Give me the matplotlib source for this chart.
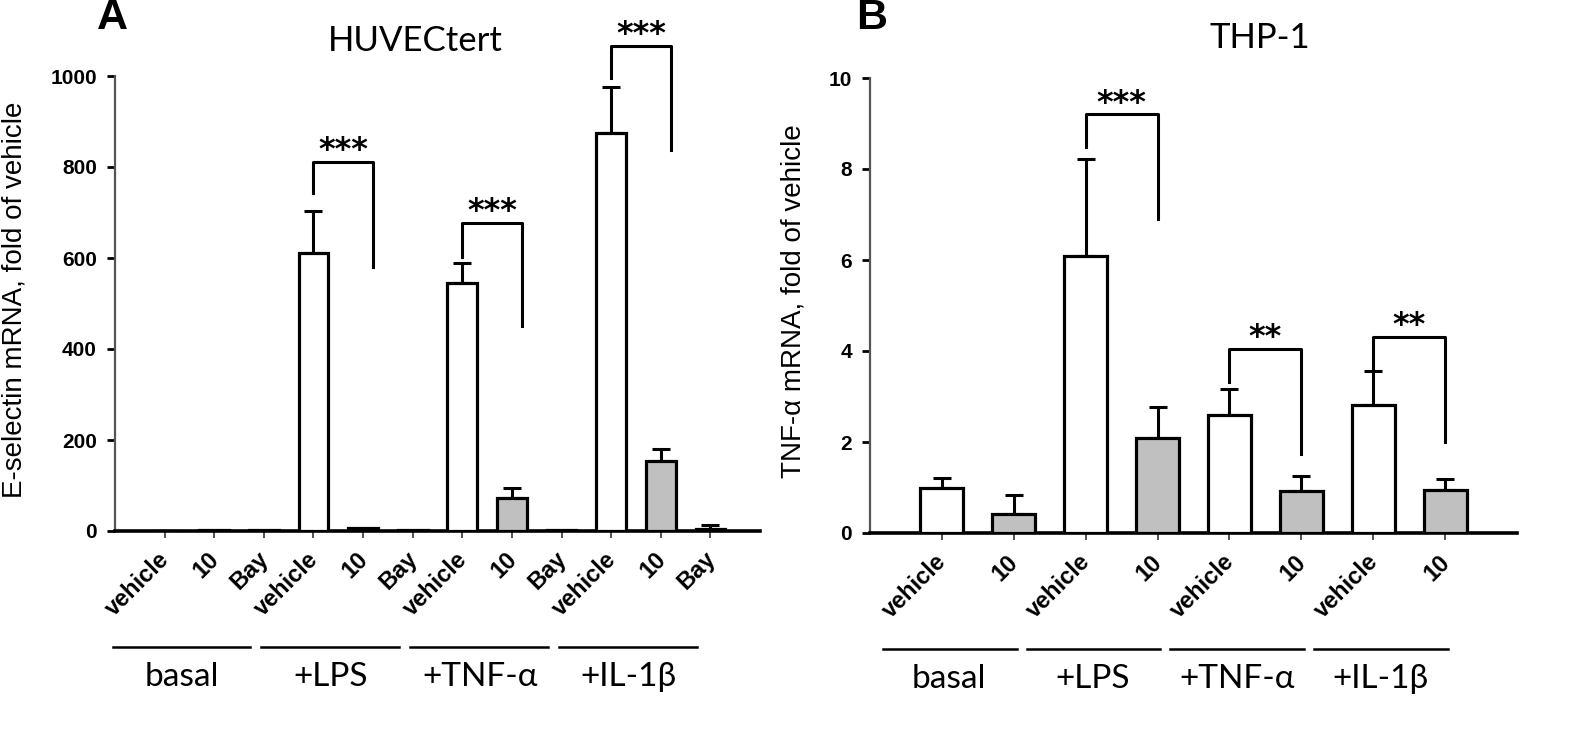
import numpy as np
import matplotlib
matplotlib.use("Agg")
import matplotlib.pyplot as plt

# ---- data ----
groups = ["basal", "+LPS", "+TNF-\u03b1", "+IL-1\u03b2"]

a_labels = ["vehicle", "10", "Bay"] * 4
a_mean = [1, 1.5, 1.5, 612, 6, 1.5, 545, 72, 3, 875, 153, 5]
a_err = [0, 0, 0, 91, 0, 0, 45, 22, 0, 101, 27, 8]
a_gray = [False, True, False] * 4

b_labels = ["vehicle", "10"] * 4
b_mean = [1.0, 0.42, 6.08, 2.09, 2.59, 0.93, 2.82, 0.94]
b_err = [0.2, 0.41, 2.14, 0.68, 0.58, 0.32, 0.73, 0.25]
b_gray = [False, True] * 4

# significance brackets: left bar, right bar, left-leg bottom, top, right-leg bottom, stars
a_sig = [(3, 4, 743, 811, 580, "***"),
         (6, 7, 602, 677, 450, "***"),
         (9, 10, 995, 1066, 837, "***")]
b_sig = [(2, 3, 8.48, 9.2, 6.9, "***"),
         (4, 5, 3.32, 4.04, 1.74, "**"),
         (6, 7, 3.55, 4.31, 2.0, "**")]

W, H = 1593, 751
fig = plt.figure(figsize=(W / 100, H / 100), dpi=100)

BOLD = dict(family=["Liberation Sans", "DejaVu Sans"], weight="bold")
CAL = ["Lato", "Open Sans", "DejaVu Sans"]


def px(x, y):
    return x / W, 1 - y / H


def panel(rect, labels, mean, err, gray, ymax, yticks, right_off, sig,
          grp_span, grp_step, grp_center, tick_dx, tick_y):
    ax = fig.add_axes(rect)
    x = np.arange(len(mean))
    colors = ["#c0c0c0" if g else "white" for g in gray]
    ax.bar(x, mean, width=0.6, color=colors, edgecolor="black",
           linewidth=2.3, zorder=3)
    err = np.array(err, dtype=float)
    m = err > 0
    ax.errorbar(x[m], np.array(mean)[m], yerr=[np.zeros(m.sum()), err[m]],
                fmt="none", ecolor="black", elinewidth=2.2, capsize=6.5,
                capthick=2.2, zorder=2)
    ax.set_xlim(-1, len(mean))
    ax.set_ylim(0, ymax)
    ax.set_yticks(yticks)
    ax.set_yticklabels([str(t) for t in yticks], fontsize=15, **BOLD)
    ax.set_xticks(x)
    ax.set_xticklabels([])
    for s in ["top", "right"]:
        ax.spines[s].set_visible(False)
    ax.spines["left"].set_color("#555555")
    ax.spines["left"].set_linewidth(1.6)
    ax.spines["bottom"].set_linewidth(2.6)
    ax.tick_params(axis="y", length=6, width=2, pad=7, direction="out")
    ax.tick_params(axis="x", length=5, width=1.3, color="#444444", direction="out")

    tr = ax.get_xaxis_transform()
    for xi, lab in zip(x, labels):
        ax.text(xi + tick_dx, tick_y, lab, transform=tr, rotation=45,
                rotation_mode="anchor", ha="right", va="baseline", fontsize=17,
                **BOLD)

    for gi, g in enumerate(groups):
        x0 = gi * grp_step + grp_span[0]
        x1 = gi * grp_step + grp_span[1]
        ax.plot([x0, x1], [-0.255, -0.255], transform=tr, color="black",
                lw=1.8, clip_on=False)
        ax.text(gi * grp_step + grp_center, -0.32, g, transform=tr,
                ha="center", va="center", fontsize=24, family=CAL)

    for l, r, yl, yt, yr, stars in sig:
        xr = r + right_off
        ax.plot([l, l, xr, xr], [yl, yt, yt, yr], color="black", lw=2.2,
                clip_on=False, zorder=4)
        ax.annotate(stars, ((l + xr) / 2, yt), xytext=(0, -3), textcoords="offset points",
                    ha="center", va="bottom", fontsize=23, weight="bold",
                    family=["DejaVu Sans"], annotation_clip=False)
    return ax


ax_a = panel([115 / W, 1 - 531 / H, 645 / W, 455 / H], a_labels, a_mean, a_err,
             a_gray, 1000, [0, 200, 400, 600, 800, 1000], 0.2, a_sig,
             (-1.05, 1.73), 3, 0.35, 0.12, -0.064)
ax_b = panel([870 / W, 1 - 533 / H, 647 / W, 455 / H], b_labels, b_mean, b_err,
             b_gray, 10, [0, 2, 4, 6, 8, 10], 0.0, b_sig,
             (-0.82, 1.04), 2, 0.1, 0.08, -0.066)

fig.text(*px(15, 300), "E-selectin mRNA, fold of vehicle", rotation=90,
         ha="center", va="center", fontsize=20,
         family=["Liberation Sans", "DejaVu Sans"])
fig.text(*px(793, 301), "TNF-\u03b1 mRNA, fold of vehicle", rotation=90,
         ha="center", va="center", fontsize=20,
         family=["Liberation Sans", "DejaVu Sans"])

fig.text(*px(415, 41), "HUVECtert", ha="center", va="center", fontsize=25, family=CAL)
fig.text(*px(1260, 38), "THP-1", ha="center", va="center", fontsize=25, family=CAL)

fig.text(*px(112, 18), "A", ha="center", va="center", fontsize=31, **BOLD)
fig.text(*px(872, 18), "B", ha="center", va="center", fontsize=31, **BOLD)

fig.savefig("out.png", dpi=100, facecolor="white")
